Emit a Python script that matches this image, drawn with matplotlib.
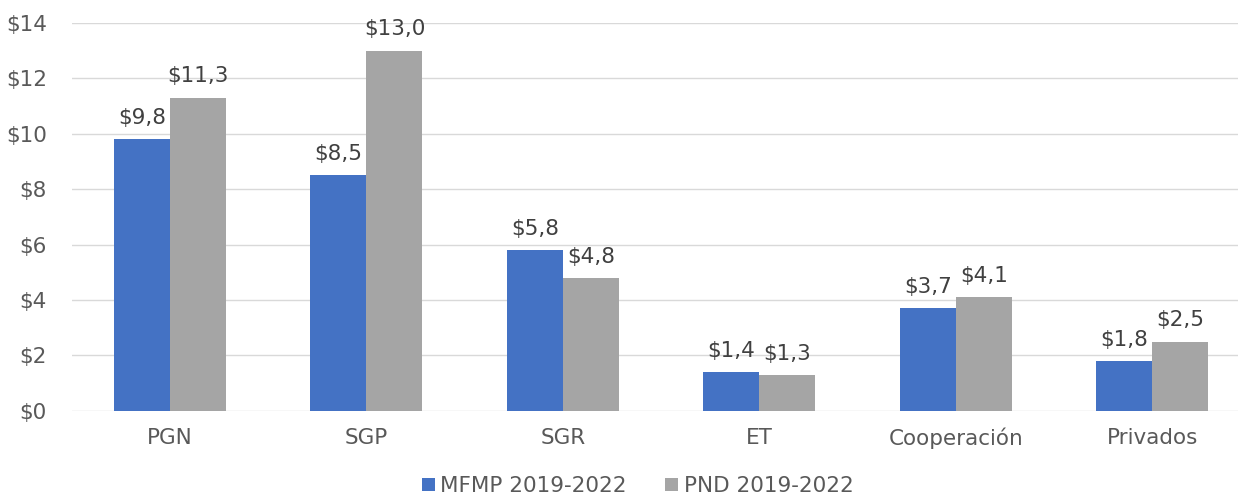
import numpy as np
import matplotlib.pyplot as plt

plt.rcParams['font.family'] = ['DejaVu Sans']

categories = ['PGN', 'SGP', 'SGR', 'ET', 'Cooperación', 'Privados']
mfmp = [9.8, 8.5, 5.8, 1.4, 3.7, 1.8]
pnd = [11.3, 13.0, 4.8, 1.3, 4.1, 2.5]
series_names = ['MFMP 2019-2022', 'PND 2019-2022']
yticks = [0, 2, 4, 6, 8, 10, 12, 14]

txt = '#595959'
fs = 15.5
fig = plt.figure(figsize=(12.38, 4.98), dpi=100)
ax = fig.add_axes([0.058, 0.175, 0.952, 0.779])

x = np.arange(len(categories))
w = 0.285
b1 = ax.bar(x - w / 2, mfmp, w, color='#4472C4', label=series_names[0], zorder=3)
b2 = ax.bar(x + w / 2, pnd, w, color='#A5A5A5', label=series_names[1], zorder=3)

def fmt(v):
    return '$' + f'{v:.1f}'.replace('.', ',')

for bars, vals in [(b1, mfmp), (b2, pnd)]:
    for r, v in zip(bars, vals):
        ax.text(r.get_x() + r.get_width() / 2, v + 0.55, fmt(v), ha='center', va='baseline',
                fontsize=fs, color='#404040')

ax.set_xlim(-0.5, len(categories) - 0.5)
ax.set_ylim(0, 14)
ax.set_yticks(yticks)
ax.set_yticklabels(['$' + str(t) for t in yticks])
ax.set_xticks(x)
ax.set_xticklabels(categories)
ax.tick_params(axis='both', length=0, labelsize=fs, labelcolor=txt)
ax.tick_params(axis='x', pad=12)
ax.tick_params(axis='y', pad=18)
ax.grid(axis='y', color='#D9D9D9', linewidth=1, zorder=0)
for s in ax.spines.values():
    s.set_visible(False)

fig.legend(handles=[b1, b2], loc='lower center', bbox_to_anchor=(0.515, -0.035), ncol=2,
           frameon=False, fontsize=fs, labelcolor=txt, handlelength=0.6, handleheight=0.6,
           handletextpad=0.25, columnspacing=1.8)

fig.savefig('out.png', dpi=100)
